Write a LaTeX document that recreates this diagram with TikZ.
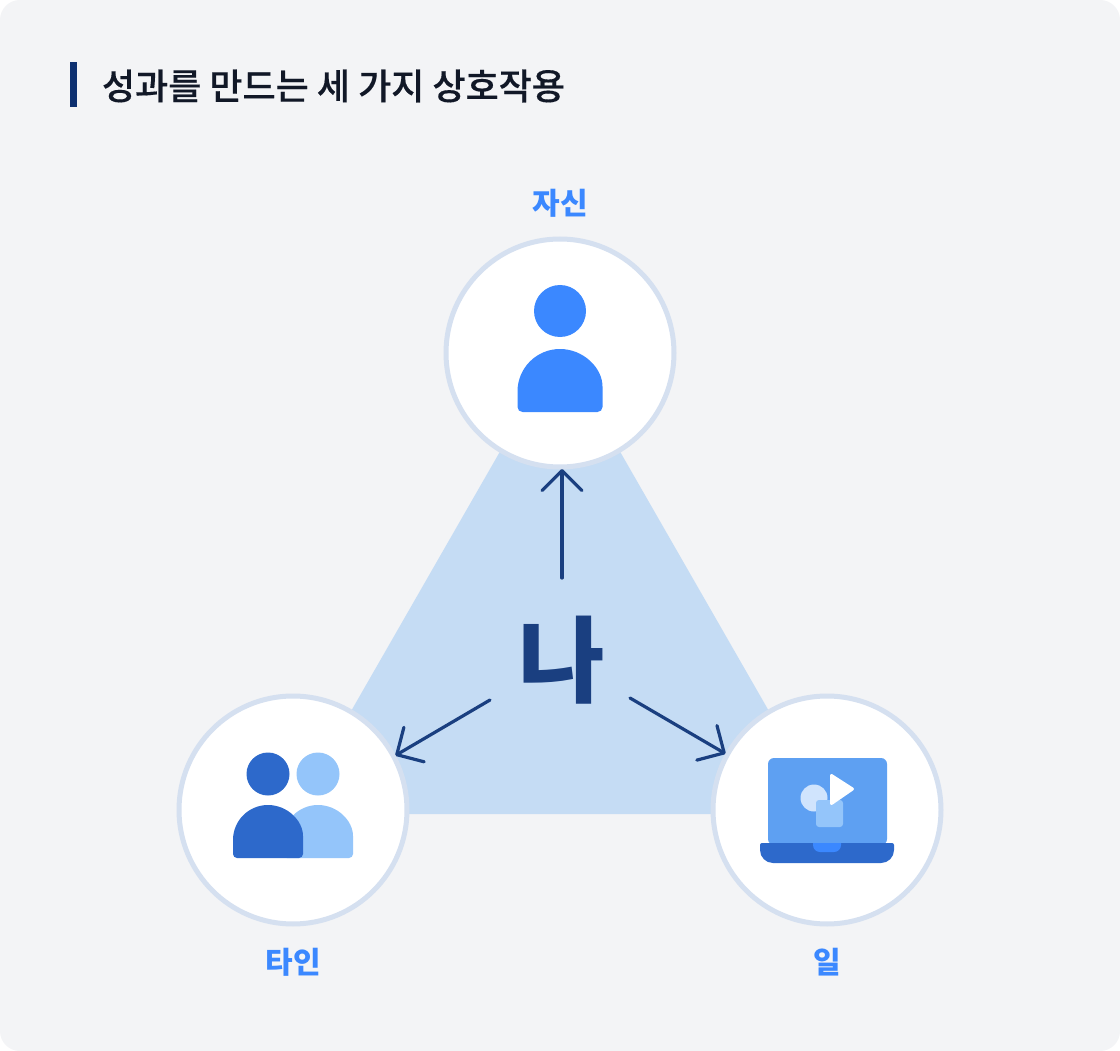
\documentclass[tikz,border=0pt]{standalone}
\usepackage{fontspec}
\setmainfont{Noto Sans CJK KR}
\newfontfamily\mediumkr[FakeBold=0.35]{Noto Sans CJK KR Medium}
\usetikzlibrary{arrows.meta}
\definecolor{panelbg}{HTML}{F3F4F6}
\definecolor{wedge}{HTML}{C5DCF4}
\definecolor{ring}{HTML}{D5E0F0}
\definecolor{navy}{HTML}{1A3F80}
\definecolor{barblue}{HTML}{0D3070}
\definecolor{inkdark}{HTML}{111827}
\definecolor{mainblue}{HTML}{3B88FF}
\definecolor{darkblue}{HTML}{2D69CB}
\definecolor{softblue}{HTML}{94C5FA}
\definecolor{midblue}{HTML}{5EA0F2}
\definecolor{paleblue}{HTML}{D0E4FD}
\newcommand{\headtext}{\fontsize{36}{40}\selectfont\mediumkr}
\newcommand{\nametext}{\fontsize{30}{34}\selectfont\bfseries}
\begin{document}
\begin{tikzpicture}[x=1pt,y=-1pt,
  every node/.style={inner sep=0pt,outer sep=0pt},
  partner/.style={draw=ring,line width=5pt,fill=white,circle,minimum size=228pt},
  partnername/.style={text=mainblue,font=\nametext},
  pointer/.style={draw=navy,line width=3.2pt,line cap=round,line join=round,shorten >=2pt,
    -{Straight Barb[length=20pt,width=40pt,round]}}]

  \fill[white] (0,0) rectangle (1120,1051);
  \useasboundingbox (0,0) rectangle (1120,1051);
  \fill[panelbg,rounded corners=20pt] (0,0) rectangle (1120,1051);

  \fill[barblue] (70,62) rectangle (77,107);
  \node[anchor=west,text=inkdark,font=\headtext] (head) at (102,86) {성과를 만드는 세 가지 상호작용};

  \fill[wedge] (560,347) -- (292,814) -- (828,814) -- cycle;

  \node[partner] (self) at (560,353) {};
  \node[partner] (other) at (293,810) {};
  \node[partner] (work) at (827,810) {};

  \node[partnername] (selfname) at (560,203) {자신};
  \node[partnername] (othername) at (293,962) {타인};
  \node[partnername] (workname) at (827,962) {일};

  \node[text=navy,font=\fontsize{94}{100}\selectfont\bfseries] (me) at (562,660) {나};

  \coordinate (upstart) at (562,578);
  \coordinate (leftstart) at (490,700);
  \coordinate (rightstart) at (630,698);
  \draw[pointer] (upstart) -- ([xshift=2pt]self.south);
  \draw[pointer] (leftstart) -- (other.28);
  \draw[pointer] (rightstart) -- (work.151);

  % person
  \fill[mainblue] (560,311) circle (26);
  \fill[mainblue,rounded corners=5pt] (517.5,391.5) -- (517.5,412) -- (602.5,412) -- (602.5,391.5)
    [rounded corners=0pt] arc[start angle=0,end angle=-180,radius=42.5] -- cycle;

  % two people
  \fill[softblue] (318,774) circle (21.5);
  \fill[softblue,rounded corners=4pt] (283,840) -- (283,858) -- (353,858) -- (353,840)
    [rounded corners=0pt] arc[start angle=0,end angle=-180,radius=35] -- cycle;
  \fill[darkblue] (268,774) circle (21.5);
  \fill[darkblue,rounded corners=4pt] (233,840) -- (233,858) -- (303,858) -- (303,840)
    [rounded corners=0pt] arc[start angle=0,end angle=-180,radius=35] -- cycle;

  % laptop
  \fill[midblue,rounded corners=6pt] (768,845) -- (768,758) -- (887,758) -- (887,845) -- cycle;
  \fill[darkblue] (760,845) [rounded corners=2pt] -- (760,843) -- (894,843) [rounded corners=0pt] -- (894,850)
    arc[start angle=0,end angle=90,radius=13] -- (773,863) arc[start angle=90,end angle=180,radius=13] -- cycle;
  \fill[mainblue] (813,843) -- (841,843) -- (841,845) arc[start angle=0,end angle=90,radius=7] -- (820,852)
    arc[start angle=90,end angle=180,radius=7] -- cycle;
  \fill[paleblue] (814,798) circle (13.5);
  \fill[softblue,rounded corners=3pt] (816,800) rectangle (843,827);
  \filldraw[white,line width=3pt,line join=round] (831.5,775.5) -- (852.5,789) -- (831.5,803.5) -- cycle;
\end{tikzpicture}
\end{document}
